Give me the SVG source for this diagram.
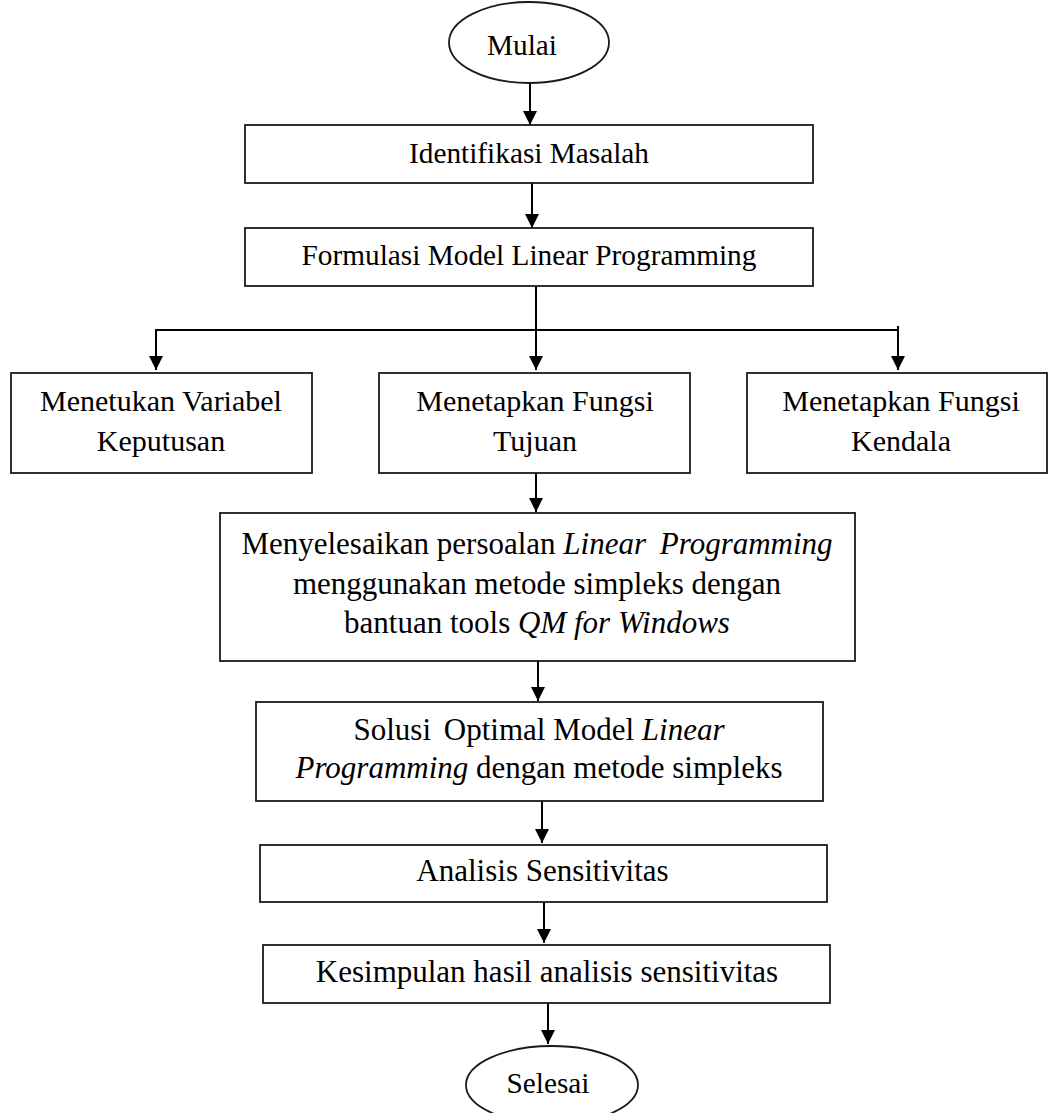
<svg xmlns="http://www.w3.org/2000/svg" width="1049" height="1113" viewBox="0 0 1049 1113">
<style>
  .box { fill: #ffffff; stroke: #1a1a1a; stroke-width: 1.8; }
  .conn { fill: none; stroke: #000000; stroke-width: 2; }
  text { font-family: "Liberation Serif", "Times New Roman", serif; fill: #000000; text-anchor: middle; }
  .t29 { font-size: 29.3px; }
  .t30 { font-size: 30px; }
  .t31 { font-size: 31px; }
  .it { font-style: italic; }
</style>
<defs>
  <marker id="arrow" viewBox="0 0 14 14" markerWidth="14" markerHeight="14" markerUnits="userSpaceOnUse" refX="14" refY="7" orient="auto">
    <path d="M0,0 L14,7 L0,14 z" fill="#000000"/>
  </marker>
</defs>
<rect width="1049" height="1113" fill="#ffffff"/>

<g id="connectors">
  <line class="conn" x1="530" y1="83" x2="530" y2="125" marker-end="url(#arrow)"/>
  <line class="conn" x1="532" y1="183" x2="532" y2="228" marker-end="url(#arrow)"/>
  <line class="conn" x1="536" y1="286" x2="536" y2="370" marker-end="url(#arrow)"/>
  <line class="conn" x1="155" y1="330" x2="899" y2="330"/>
  <line class="conn" x1="156" y1="329" x2="156" y2="370" marker-end="url(#arrow)"/>
  <line class="conn" x1="898" y1="326" x2="898" y2="370" marker-end="url(#arrow)"/>
  <line class="conn" x1="536" y1="473" x2="536" y2="512" marker-end="url(#arrow)"/>
  <line class="conn" x1="538" y1="661" x2="538" y2="701" marker-end="url(#arrow)"/>
  <line class="conn" x1="542" y1="801" x2="542" y2="843" marker-end="url(#arrow)"/>
  <line class="conn" x1="544" y1="902" x2="544" y2="943" marker-end="url(#arrow)"/>
  <line class="conn" x1="548" y1="1003" x2="548" y2="1044" marker-end="url(#arrow)"/>
</g>

<g id="mulai">
  <ellipse class="box" cx="529" cy="42.5" rx="80" ry="40.5"/>
  <text class="t29" x="522" y="55">Mulai</text>
</g>

<g id="identifikasi">
  <rect class="box" x="245" y="125" width="568" height="58"/>
  <text class="t29" x="529" y="163">Identifikasi Masalah</text>
</g>

<g id="formulasi">
  <rect class="box" x="245" y="228" width="568" height="58"/>
  <text class="t29" x="529" y="265">Formulasi Model Linear Programming</text>
</g>

<g id="variabel">
  <rect class="box" x="11" y="373" width="301" height="100"/>
  <text class="t30" x="161" y="411">Menetukan Variabel</text>
  <text class="t30" x="161" y="451">Keputusan</text>
</g>

<g id="tujuan">
  <rect class="box" x="379" y="373" width="311" height="100"/>
  <text class="t30" x="535" y="411">Menetapkan Fungsi</text>
  <text class="t30" x="535" y="451">Tujuan</text>
</g>

<g id="kendala">
  <rect class="box" x="747" y="373" width="300" height="100"/>
  <text class="t30" x="901" y="411">Menetapkan Fungsi</text>
  <text class="t30" x="901" y="451">Kendala</text>
</g>

<g id="menyelesaikan">
  <rect class="box" x="220" y="513" width="635" height="148"/>
  <text class="t31" x="537" y="554">Menyelesaikan persoalan <tspan class="it">Linear</tspan> <tspan class="it" dx="6">Programming</tspan></text>
  <text class="t31" x="537" y="594">menggunakan metode simpleks dengan</text>
  <text class="t31" x="537" y="633">bantuan tools <tspan class="it">QM for Windows</tspan></text>
</g>

<g id="solusi">
  <rect class="box" x="256" y="702" width="567" height="99"/>
  <text class="t31" x="539" y="740">Solusi <tspan dx="5">Optimal</tspan> Model <tspan class="it">Linear</tspan></text>
  <text class="t31" x="539" y="778"><tspan class="it">Programming</tspan> dengan metode simpleks</text>
</g>

<g id="analisis">
  <rect class="box" x="260" y="845" width="567" height="57"/>
  <text class="t31" x="542.5" y="881">Analisis Sensitivitas</text>
</g>

<g id="kesimpulan">
  <rect class="box" x="263" y="945" width="567" height="58"/>
  <text class="t31" x="547" y="982">Kesimpulan hasil analisis sensitivitas</text>
</g>

<g id="selesai">
  <ellipse class="box" cx="552" cy="1085" rx="86" ry="39"/>
  <text class="t29" x="548" y="1093">Selesai</text>
</g>
</svg>
